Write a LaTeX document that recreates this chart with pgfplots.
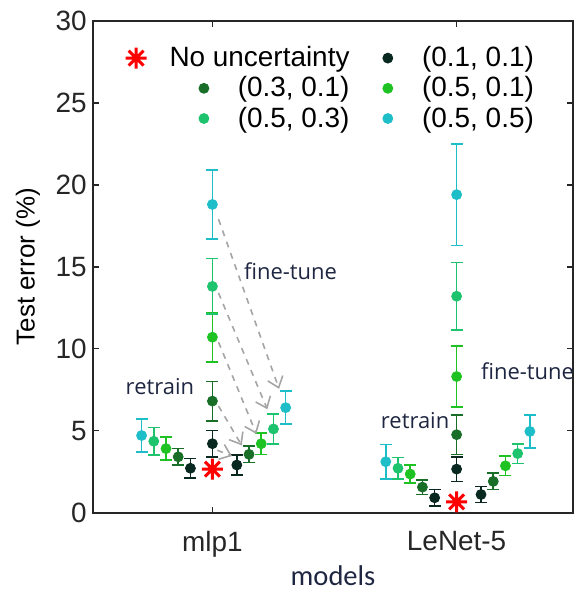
\documentclass[border=0pt]{standalone}
\usepackage{fontspec}
\setmainfont{Liberation Sans}
\newfontfamily\annfont{Open Sans}
\newfontfamily\calfont{Carlito}
\usepackage{pgfplots}
\pgfplotsset{compat=1.18}
\usetikzlibrary{arrows.meta}

\definecolor{axgray}{RGB}{38,38,38}
\definecolor{cA}{RGB}{8,40,32}     % (0.1, 0.1)
\definecolor{cB}{RGB}{25,110,40}   % (0.3, 0.1)
\definecolor{cC}{RGB}{30,195,35}   % (0.5, 0.1)
\definecolor{cD}{RGB}{30,195,110}  % (0.5, 0.3)
\definecolor{cE}{RGB}{30,190,200}  % (0.5, 0.5)
\definecolor{anncol}{RGB}{30,38,65}
\definecolor{arrgray}{RGB}{165,165,165}

% matlab-like eight-armed star
\pgfdeclareplotmark{mstar}{%
  \pgfpathmoveto{\pgfpoint{-\pgfplotmarksize}{0pt}}\pgfpathlineto{\pgfpoint{\pgfplotmarksize}{0pt}}%
  \pgfpathmoveto{\pgfpoint{0pt}{-\pgfplotmarksize}}\pgfpathlineto{\pgfpoint{0pt}{\pgfplotmarksize}}%
  \pgfpathmoveto{\pgfpoint{-0.707\pgfplotmarksize}{-0.707\pgfplotmarksize}}\pgfpathlineto{\pgfpoint{0.707\pgfplotmarksize}{0.707\pgfplotmarksize}}%
  \pgfpathmoveto{\pgfpoint{-0.707\pgfplotmarksize}{0.707\pgfplotmarksize}}\pgfpathlineto{\pgfpoint{0.707\pgfplotmarksize}{-0.707\pgfplotmarksize}}%
  \pgfusepathqstroke}

\pgfplotsset{
  errpt/.style={only marks, mark=*, mark size=2.5pt, color=#1,
    mark options={fill=#1, draw=#1},
    error bars/.cd, y dir=both, y explicit,
    error bar style={line width=0.8pt, color=#1},
    error mark options={rotate=90, mark size=3pt, line width=0.8pt, color=#1}},
  % legend image: cell of width #1, marker drawn at #2
  limg/.style 2 args={/pgfplots/legend image code/.code={%
    \path (0pt,-2.5pt) (#1,2.5pt);
    \draw[overlay, ##1] plot coordinates {(#2,0pt)};}},
}

\begin{document}
\begin{tikzpicture}
\begin{axis}[
  scale only axis,
  width=241pt, height=246.5pt,
  xmin=0.51, xmax=2.478, ymin=0, ymax=30,
  xtick={1,2}, xticklabels={mlp1,LeNet-5},
  ytick={0,5,...,30},
  tick align=inside,
  major tick length=3pt,
  axis line style={line width=1pt, color=axgray},
  every tick/.style={axgray, line width=0.8pt},
  tick label style={font=\fontsize{14}{16}\selectfont, color=axgray},
  /pgf/number format/assume math mode=true,
  x tick label style={yshift=-6pt},
  y tick label style={xshift=0.5pt},
  xlabel={models},
  every axis x label/.style={at={(axis description cs:0.5,0)}, yshift=-31.5pt, anchor=center,
    font=\calfont\fontsize{14.3}{16}\selectfont, color=anncol},
  ylabel={Test error (\%)},
  every axis y label/.style={at={(axis description cs:0,0.5)}, xshift=-32.5pt, rotate=90, anchor=center,
    font=\fontsize{13}{15}\selectfont, color=black},
  clip=false,
  legend columns=2,
  legend cell align=right,
  legend style={draw=none, fill=none, inner sep=0pt, outer sep=0pt,
    font=\fontsize{14}{16}\selectfont,
    nodes={inner sep=0pt},
    at={(axis description cs:0.0415,0.948)}, anchor=north west,
    /tikz/column sep=0pt, /tikz/row sep=3.5pt},
]

\addplot[limg={27pt}{11pt}, only marks, mark=mstar, mark size=5.3pt, color=red, line width=1.5pt]
  coordinates {(1.0,2.65) (2.0,0.65)};
\addlegendentry{No uncertainty}

\addplot[limg={36pt}{19pt}, errpt=cA] table[x=x, y=y, y error=e, row sep=\\] {
x y e \\
0.91 2.7 0.6 \\ 1.0 4.2 0.8 \\ 1.10 2.9 0.6 \\
1.91 0.9 0.5 \\ 2.0 2.65 0.75 \\ 2.10 1.1 0.5 \\
};
\addlegendentry{(0.1, 0.1)}

\addplot[limg={27pt}{45pt}, errpt=cB] table[x=x, y=y, y error=e, row sep=\\] {
x y e \\
0.86 3.4 0.5 \\ 1.0 6.8 1.2 \\ 1.15 3.55 0.5 \\
1.86 1.55 0.45 \\ 2.0 4.75 1.2 \\ 2.15 1.9 0.5 \\
};
\addlegendentry{(0.3, 0.1)}

\addplot[limg={36pt}{19pt}, errpt=cC] table[x=x, y=y, y error=e, row sep=\\] {
x y e \\
0.81 3.9 0.7 \\ 1.0 10.7 1.5 \\ 1.20 4.2 0.65 \\
1.81 2.35 0.55 \\ 2.0 8.3 1.85 \\ 2.20 2.85 0.6 \\
};
\addlegendentry{(0.5, 0.1)}

\addplot[limg={27pt}{45pt}, errpt=cD] table[x=x, y=y, y error=e, row sep=\\] {
x y e \\
0.76 4.35 0.85 \\ 1.0 13.8 1.7 \\ 1.25 5.1 0.9 \\
1.76 2.7 0.65 \\ 2.0 13.2 2.05 \\ 2.25 3.6 0.6 \\
};
\addlegendentry{(0.5, 0.3)}

\addplot[limg={36pt}{19pt}, errpt=cE] table[x=x, y=y, y error=e, row sep=\\] {
x y e \\
0.71 4.7 1.0 \\ 1.0 18.8 2.1 \\ 1.30 6.4 1.0 \\
1.71 3.1 1.05 \\ 2.0 19.4 3.1 \\ 2.30 4.95 1.0 \\
};
\addlegendentry{(0.5, 0.5)}

% fine-tune arrows (mlp1)
\begin{scope}[arrgray, dashed, line width=0.8pt, -{Straight Barb[length=5pt, width=8pt]}]
  \draw (axis cs:1.025,17.9) -- (axis cs:1.273,7.55);
  \draw (axis cs:1.025,13.4) -- (axis cs:1.225,6.3);
  \draw (axis cs:1.025,10.4) -- (axis cs:1.18,4.8);
  \draw (axis cs:1.025,6.5) -- (axis cs:1.12,4.1);
  \draw (axis cs:1.02,3.8) -- (axis cs:1.08,3.45);
\end{scope}

\node[font=\annfont\fontsize{11}{13}\selectfont, color=anncol] at (axis cs:1.32,14.7) {fine-tune};
\node[font=\annfont\fontsize{11}{13}\selectfont, color=anncol] at (axis cs:0.785,7.7) {retrain};
\node[font=\annfont\fontsize{11}{13}\selectfont, color=anncol] at (axis cs:1.83,5.6) {retrain};
\node[font=\annfont\fontsize{11}{13}\selectfont, color=anncol] at (axis cs:2.29,8.6) {fine-tune};

% page margins as in the original figure
\path (rel axis cs:0,0) ++(-46.5pt,-38.5pt);
\path (rel axis cs:1,1) ++(3pt,10.5pt);

\end{axis}
\end{tikzpicture}
\end{document}
